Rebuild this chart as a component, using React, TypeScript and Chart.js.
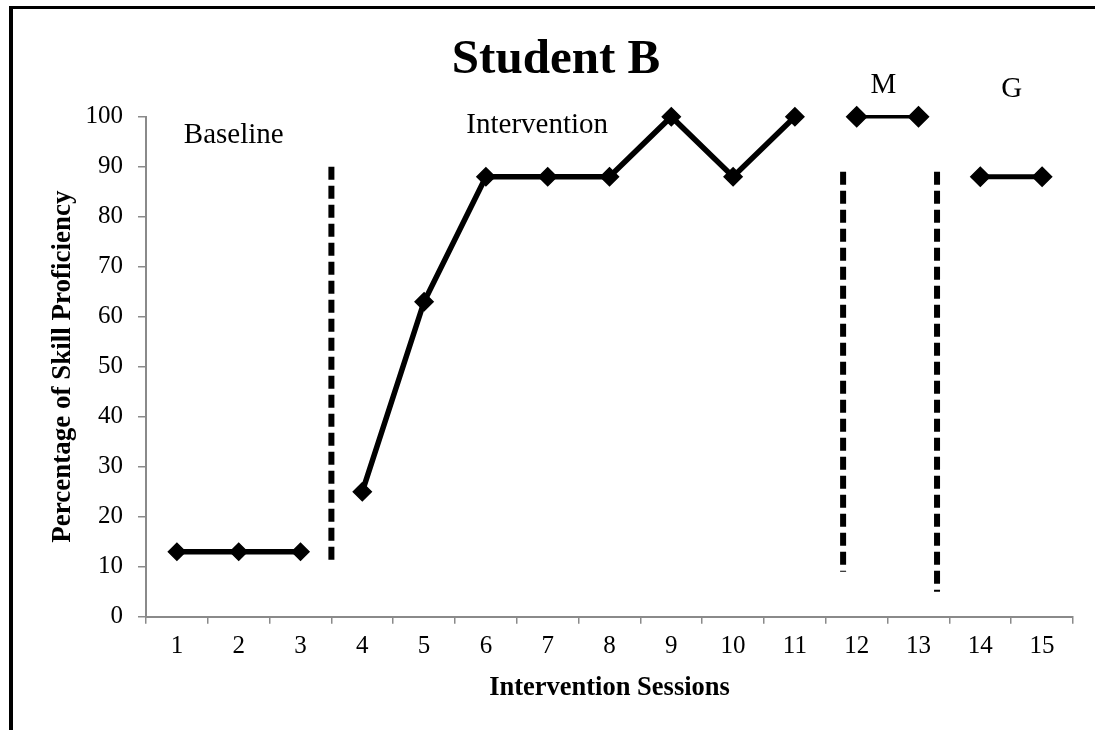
import React, { useEffect, useRef } from "react";
import { Chart, registerables } from "chart.js";

Chart.register(...registerables);

// ---- data ----
const sessions = ["1", "2", "3", "4", "5", "6", "7", "8", "9", "10", "11", "12", "13", "14", "15"];

const baselineX = [1, 2, 3];
const baselineY = [13, 13, 13];

const interventionX = [4, 5, 6, 7, 8, 9, 10, 11];
const interventionY = [25, 63, 88, 88, 88, 100, 88, 100];

const maintenanceX = [12, 13];
const maintenanceY = [100, 100];

const generalizationX = [14, 15];
const generalizationY = [88, 88];

// phase change lines (session position, top value, bottom value)
const phaseChangeX = [3.5, 11.78, 13.3];
const phaseChangeTop = [90, 89, 89];
const phaseChangeBottom = [11, 9, 5];

const phaseLabels = ["Baseline", "Intervention", "M", "G"];
const phaseLabelX = [1.92, 6.83, 12.43, 14.51];
const phaseLabelY = [94.8, 96.7, 104.7, 104];

const yMin = 0;
const yMax = 100;
const yStep = 10;

const chartTitle = "Student B";
const xTitle = "Intervention Sessions";
const yTitle = "Percentage of Skill Proficiency";

const SERIF = "'Liberation Serif', 'Times New Roman', serif";
const AXIS_GRAY = "#8a8a8a";

function pts(xs: number[], ys: number[]) {
  return xs.map((x, i) => ({ x, y: ys[i] }));
}

const textPlugin = {
  id: "textPlugin",
  afterDatasetsDraw(chart: any) {
    const ctx = chart.ctx as CanvasRenderingContext2D;
    const area = chart.chartArea;
    const xs = chart.scales.x2;
    const ys = chart.scales.y;
    ctx.save();
    ctx.fillStyle = "#000";
    ctx.textBaseline = "alphabetic";
    ctx.textAlign = "center";

    // chart title
    ctx.font = `bold 49px ${SERIF}`;
    ctx.fillText(chartTitle, 556, 73);

    // x axis title
    ctx.font = `bold 26.5px ${SERIF}`;
    ctx.fillText(xTitle, (area.left + area.right) / 2, 695);

    // y axis title
    ctx.save();
    ctx.translate(70, (area.top + area.bottom) / 2);
    ctx.rotate(-Math.PI / 2);
    ctx.font = `bold 27px ${SERIF}`;
    ctx.fillText(yTitle, 0, 0);
    ctx.restore();

    // phase labels
    ctx.font = `29px ${SERIF}`;
    phaseLabels.forEach((t, i) => {
      ctx.fillText(t, xs.getPixelForValue(phaseLabelX[i]), ys.getPixelForValue(phaseLabelY[i]));
    });
    ctx.restore();
  },
};

export default function App() {
  const ref = useRef<HTMLCanvasElement | null>(null);

  useEffect(() => {
    if (!ref.current) return;
    const lineStyle = {
      xAxisID: "x2",
      yAxisID: "y",
      borderColor: "#000",
      backgroundColor: "#000",
      pointBackgroundColor: "#000",
      pointBorderColor: "#000",
      pointStyle: "rectRot",
      pointRadius: 9,
      pointBorderWidth: 1.5,
      tension: 0,
      fill: false,
      clip: false,
    };
    const dashed = phaseChangeX.map((x, i) => ({
      label: `phase${i}`,
      data: [
        { x, y: phaseChangeTop[i] },
        { x, y: phaseChangeBottom[i] },
      ],
      xAxisID: "x2",
      yAxisID: "y",
      borderColor: "#000",
      borderWidth: 6,
      borderDash: [13, 6],
      borderCapStyle: "butt",
      pointRadius: 0,
      fill: false,
      clip: false,
    }));

    const chart = new Chart(ref.current, {
      type: "line",
      data: {
        labels: sessions,
        datasets: [
          { label: "Baseline", data: pts(baselineX, baselineY), ...lineStyle, borderWidth: 5.5, pointRadius: 8.5 },
          { label: "Intervention", data: pts(interventionX, interventionY), ...lineStyle, borderWidth: 5.5 },
          { label: "Maintenance", data: pts(maintenanceX, maintenanceY), ...lineStyle, borderWidth: 3.5, pointRadius: 10 },
          { label: "Generalization", data: pts(generalizationX, generalizationY), ...lineStyle, borderWidth: 5, pointRadius: 9.5 },
          ...dashed,
        ] as any,
      },
      options: {
        responsive: false,
        animation: false,
        layout: { padding: { left: 0, right: 22, top: 116.7, bottom: 0 } },
        plugins: {
          legend: { display: false },
          title: { display: false },
          tooltip: { enabled: false },
        },
        scales: {
          x: {
            type: "category",
            position: "bottom",
            offset: true,
            grid: {
              offset: true,
              drawOnChartArea: false,
              drawTicks: true,
              tickLength: 7,
              color: AXIS_GRAY,
              lineWidth: 1.5,
            },
            border: { display: true, color: AXIS_GRAY, width: 2 },
            ticks: {
              color: "#000",
              font: { family: SERIF, size: 25 },
              padding: 8,
              maxRotation: 0,
              autoSkip: false,
            },
            afterFit: (s: any) => {
              s.height = 730 - 616.7;
            },
          },
          x2: {
            type: "linear",
            position: "bottom",
            display: false,
            min: 0.5,
            max: 15.5,
          },
          y: {
            type: "linear",
            position: "left",
            min: yMin,
            max: yMax,
            grid: {
              drawOnChartArea: false,
              drawTicks: true,
              tickLength: 8,
              color: AXIS_GRAY,
              lineWidth: 1.5,
            },
            border: { display: true, color: AXIS_GRAY, width: 2 },
            ticks: {
              stepSize: yStep,
              color: "#000",
              font: { family: SERIF, size: 25 },
              padding: 15,
            },
            afterFit: (s: any) => {
              s.width = 146;
            },
          },
        },
      } as any,
      plugins: [textPlugin],
    });
    return () => chart.destroy();
  }, []);

  return (
    <div
      style={{
        position: "fixed",
        left: 0,
        top: 0,
        width: 1095,
        height: 730,
        overflow: "hidden",
        background: "#fff",
      }}
    >
      <div
        style={{
          position: "absolute",
          left: 9,
          top: 6,
          width: 1300,
          height: 900,
          borderLeft: "4px solid #000",
          borderTop: "3px solid #000",
        }}
      />
      <canvas ref={ref} width={1095} height={730} style={{ position: "absolute", left: 0, top: 0 }} />
    </div>
  );
}
